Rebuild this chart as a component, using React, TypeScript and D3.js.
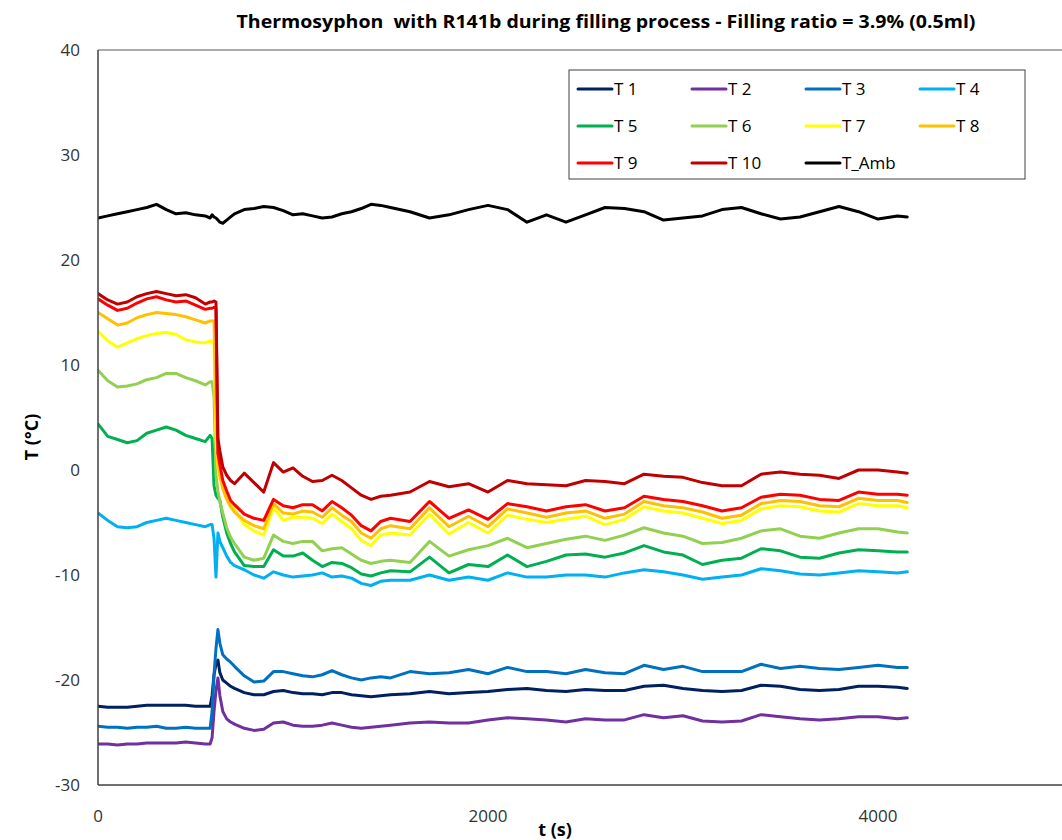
import React from "react";
import * as d3 from "d3";

// ---------- DATA ----------
const timeS = [
  0, 50, 100, 150, 200, 250, 300, 350, 400, 450, 500, 550,
  575, 585, 595, 605, 615, 625, 640, 660, 680, 700,
  750, 800, 850, 900, 950, 1000, 1050, 1100, 1150, 1200, 1250, 1300, 1350, 1400, 1450, 1500,
  1600, 1700, 1800, 1900, 2000, 2100, 2200, 2300, 2400, 2500, 2600, 2700, 2800, 2900, 3000,
  3100, 3200, 3300, 3400, 3500, 3600, 3700, 3800, 3900, 4000, 4100, 4150,
];

const T1 = [
  -22.5, -22.6, -22.6, -22.6, -22.5, -22.4, -22.4, -22.4, -22.4, -22.4, -22.5, -22.5,
  -22.5, -21.5, -19.5, -18.5, -18.1, -19.3, -20.0, -20.3, -20.6, -20.8,
  -21.2, -21.4, -21.4, -21.1, -21.0, -21.2, -21.3, -21.3, -21.4, -21.2, -21.2, -21.4, -21.5, -21.6, -21.5, -21.4,
  -21.3, -21.1, -21.3, -21.2, -21.1, -20.9, -20.8, -21.0, -21.1, -20.9, -21.0, -21.0, -20.6, -20.5, -20.8,
  -21.0, -21.1, -21.0, -20.5, -20.6, -20.9, -21.0, -20.9, -20.6, -20.6, -20.7, -20.8,
];
const T2 = [
  -26.1, -26.1, -26.2, -26.1, -26.1, -26.0, -26.0, -26.0, -26.0, -25.9, -26.0, -26.1,
  -26.1, -25.5, -23.0, -21.0, -19.8, -21.5, -23.0, -23.7, -24.0, -24.2,
  -24.6, -24.8, -24.7, -24.1, -24.0, -24.3, -24.4, -24.4, -24.3, -24.1, -24.3, -24.5, -24.6, -24.5, -24.4, -24.3,
  -24.1, -24.0, -24.1, -24.1, -23.8, -23.6, -23.7, -23.8, -24.0, -23.7, -23.8, -23.8, -23.3, -23.6, -23.4,
  -23.9, -24.0, -23.9, -23.3, -23.5, -23.7, -23.8, -23.7, -23.5, -23.5, -23.7, -23.6,
];
const T3 = [
  -24.4, -24.5, -24.5, -24.6, -24.5, -24.5, -24.4, -24.6, -24.6, -24.5, -24.6, -24.6,
  -24.6, -23.0, -19.5, -17.0, -15.2, -16.5, -17.6, -18.0, -18.3, -18.7,
  -19.6, -20.2, -20.1, -19.2, -19.2, -19.4, -19.6, -19.7, -19.5, -19.1, -19.5, -19.8, -20.0, -19.8, -19.7, -19.8,
  -19.2, -19.4, -19.3, -19.0, -19.4, -18.8, -19.2, -19.2, -19.4, -19.0, -19.3, -19.4, -18.6, -19.0, -18.7,
  -19.2, -19.2, -19.2, -18.5, -18.9, -18.7, -18.9, -19.0, -18.8, -18.6, -18.8, -18.8,
];
const T4 = [
  -4.1, -4.8, -5.4, -5.5, -5.4, -5.0, -4.8, -4.6, -4.8, -5.0, -5.2, -5.4,
  -5.2, -5.2, -6.5, -10.2, -6.0, -6.8, -7.4, -8.2, -8.8, -9.1,
  -9.5, -10.0, -10.3, -9.7, -10.0, -10.2, -10.1, -10.0, -9.8, -10.2, -10.1, -10.3, -10.8, -11.0, -10.6, -10.5,
  -10.5, -10.0, -10.5, -10.2, -10.5, -9.8, -10.2, -10.2, -10.0, -10.0, -10.2, -9.8, -9.5, -9.7, -10.0,
  -10.4, -10.2, -10.0, -9.4, -9.6, -9.9, -10.0, -9.8, -9.6, -9.7, -9.8, -9.7,
];
const T5 = [
  4.4, 3.2, 2.9, 2.6, 2.8, 3.5, 3.8, 4.1, 3.8, 3.3, 3.0, 2.7,
  3.3, 3.0, -1.5, -2.4, -2.7, -2.9, -4.5, -6.0, -7.0, -7.8,
  -9.1, -9.2, -9.2, -7.6, -8.2, -8.2, -7.9, -8.6, -9.2, -8.8, -8.9, -9.3, -9.9, -10.1, -9.8, -9.6,
  -9.7, -8.3, -9.8, -9.0, -9.2, -8.1, -9.2, -8.7, -8.1, -8.0, -8.3, -7.9, -7.2, -7.8, -8.1,
  -9.0, -8.6, -8.4, -7.5, -7.7, -8.3, -8.4, -7.9, -7.6, -7.7, -7.8, -7.8,
];
const T6 = [
  9.5, 8.5, 7.9, 8.0, 8.2, 8.6, 8.8, 9.2, 9.2, 8.8, 8.5, 8.1,
  8.4, 8.4, 7.0, -0.5, -2.0, -3.0, -4.1, -5.5, -6.4, -7.0,
  -8.3, -8.6, -8.4, -6.2, -6.8, -7.0, -6.8, -6.8, -7.7, -7.5, -7.4, -8.0, -8.6, -8.9, -8.7, -8.6,
  -8.8, -6.8, -8.2, -7.6, -7.2, -6.5, -7.4, -7.0, -6.6, -6.3, -6.7, -6.2, -5.5, -6.0, -6.3,
  -7.0, -6.9, -6.5, -5.8, -5.6, -6.3, -6.5, -6.0, -5.6, -5.6, -5.9, -6.0,
];
const T7 = [
  13.2, 12.3, 11.7, 12.1, 12.5, 12.8, 13.0, 13.1, 12.9, 12.4, 12.2, 12.1,
  12.3, 12.2, 12.0, 3.0, 0.3, -0.8, -1.5, -2.2, -3.0, -3.8,
  -5.2, -5.8, -6.2, -3.6, -4.8, -4.5, -4.5, -4.6, -5.1, -4.2, -4.9, -5.6, -6.7, -7.2, -6.2, -6.0,
  -6.2, -4.2, -6.1, -5.0, -6.0, -4.3, -4.7, -5.0, -4.7, -4.4, -5.2, -4.7, -3.5, -3.9, -4.1,
  -4.6, -5.1, -4.8, -3.7, -3.4, -3.5, -3.9, -4.0, -3.2, -3.4, -3.4, -3.6,
];
const T8 = [
  15.0, 14.4, 13.8, 14.0, 14.5, 14.8, 15.0, 14.9, 14.8, 14.6, 14.3, 14.0,
  14.2, 14.2, 14.2, 5.0, 0.8, -0.5, -1.8, -2.8, -3.5, -4.0,
  -4.8, -5.3, -5.6, -3.2, -4.1, -4.2, -3.9, -4.0, -4.5, -3.6, -4.3, -4.9, -6.0, -6.5, -5.6, -5.3,
  -5.6, -3.6, -5.4, -4.4, -5.4, -3.7, -4.1, -4.5, -4.1, -3.9, -4.6, -4.2, -3.0, -3.4, -3.6,
  -4.0, -4.6, -4.3, -3.2, -2.9, -3.0, -3.4, -3.5, -2.7, -2.9, -2.9, -3.1,
];
const T9 = [
  16.3, 15.7, 15.2, 15.4, 15.9, 16.3, 16.5, 16.2, 16.0, 16.1, 15.7, 15.3,
  15.4, 15.4, 15.5, 15.4, 1.6, 0.5, -1.0, -2.0, -2.9, -3.3,
  -4.2, -4.6, -4.8, -2.8, -3.4, -3.6, -3.3, -3.3, -3.9, -3.0, -3.6, -4.3, -5.3, -5.8, -4.9, -4.6,
  -4.9, -3.0, -4.6, -3.8, -4.7, -3.2, -3.5, -3.9, -3.5, -3.3, -3.9, -3.6, -2.5, -2.8, -3.0,
  -3.4, -3.9, -3.6, -2.6, -2.3, -2.4, -2.8, -2.9, -2.1, -2.3, -2.3, -2.4,
];
const T10 = [
  16.8, 16.2, 15.8, 16.0, 16.5, 16.8, 17.0, 16.8, 16.6, 16.7, 16.4, 15.8,
  16.0, 16.0, 16.1, 16.0, 3.0, 1.8, 0.3, -0.5, -1.0, -1.3,
  -0.3, -1.2, -2.1, 0.7, -0.2, 0.2, -0.6, -1.1, -1.0, -0.5, -1.0, -1.7, -2.4, -2.8, -2.5, -2.4,
  -2.1, -1.1, -1.6, -1.3, -2.1, -1.0, -1.3, -1.4, -1.5, -1.0, -1.1, -1.3, -0.4, -0.6, -0.7,
  -1.2, -1.5, -1.5, -0.4, -0.2, -0.4, -0.5, -0.8, 0.0, 0.0, -0.2, -0.3,
];
const TAmb = [
  24.0, 24.2, 24.4, 24.6, 24.8, 25.0, 25.3, 24.8, 24.4, 24.5, 24.3, 24.2,
  24.0, 24.3, 24.1, 24.0, 23.8, 23.6, 23.5, 23.8, 24.1, 24.4,
  24.8, 24.9, 25.1, 25.0, 24.7, 24.3, 24.4, 24.2, 24.0, 24.1, 24.4, 24.6, 24.9, 25.3, 25.2, 25.0,
  24.6, 24.0, 24.3, 24.8, 25.2, 24.8, 23.6, 24.3, 23.6, 24.3, 25.0, 24.9, 24.6, 23.8, 24.0,
  24.2, 24.8, 25.0, 24.4, 23.9, 24.1, 24.6, 25.1, 24.6, 23.9, 24.2, 24.1,
];

const seriesNames = ["T 1", "T 2", "T 3", "T 4", "T 5", "T 6", "T 7", "T 8", "T 9", "T 10", "T_Amb"];
const seriesValues = [T1, T2, T3, T4, T5, T6, T7, T8, T9, T10, TAmb];
const seriesColors = [
  "#002060", "#7030A0", "#0070C0", "#00B0F0", "#00B050", "#92D050",
  "#FFFF00", "#FFC000", "#FF0000", "#C00000", "#000000",
];

const yTicks = [-30, -20, -10, 0, 10, 20, 30, 40];
const xTicks = [0, 2000, 4000];

const titleText = "Thermosyphon  with R141b during filling process - Filling ratio = 3.9% (0.5ml)";
const xTitle = "t (s)";
const yTitle = "T (°C)";

// ---------- CHART ----------
export default function App() {
  const W = 1062;
  const H = 840;
  const left = 98;
  const top = 50;
  const bottom = 785;
  const x = d3.scaleLinear().domain([0, 5000]).range([left, 1073]);
  const y = d3.scaleLinear().domain([-30, 40]).range([bottom, top]);
  const font = "'Open Sans', 'Noto Sans', sans-serif";

  const line = d3
    .line<number>()
    .x((_, i) => x(timeS[i]))
    .y((d) => y(d));

  const legendX = 569;
  const legendY = 70;
  const colW = 114;
  const rowH = 37;

  return (
    <div style={{ position: "absolute", left: 0, top: 0 }}>
      <svg width={W} height={H} style={{ display: "block", background: "#fff" }}>
        <defs>
          <clipPath id="plotclip">
            <rect x={left} y={top} width={W - left} height={bottom - top} />
          </clipPath>
        </defs>
        <text
          x={606}
          y={28}
          textAnchor="middle"
          fontFamily={font}
          fontWeight="bold"
          fontSize={17}
          textLength={739}
          lengthAdjust="spacingAndGlyphs"
          fill="#000"
          style={{ whiteSpace: "pre" }}
        >
          {titleText}
        </text>

        {/* plot frame */}
        <line x1={left} x2={W} y1={top} y2={top} stroke="#595959" strokeWidth={1} />

        {/* series */}
        <g clipPath="url(#plotclip)">
          {seriesValues.map((vals, k) => (
            <path
              key={seriesNames[k]}
              d={line(vals) || ""}
              fill="none"
              stroke={seriesColors[k]}
              strokeWidth={3}
              strokeLinejoin="round"
              strokeLinecap="round"
            />
          ))}
        </g>

        {/* axes */}
        <line x1={left} x2={left} y1={top} y2={bottom} stroke="#404040" strokeWidth={1.5} />
        <line x1={left} x2={W} y1={bottom} y2={bottom} stroke="#404040" strokeWidth={1.5} />

        {yTicks.map((t) => (
          <text
            key={"y" + t}
            x={80}
            y={y(t)}
            dy="0.35em"
            textAnchor="end"
            fontFamily={font}
            fontSize={17}
            fill="#333"
          >
            {t}
          </text>
        ))}
        {xTicks.map((t) => (
          <text
            key={"x" + t}
            x={x(t)}
            y={822}
            textAnchor="middle"
            fontFamily={font}
            fontSize={17}
            fill="#333"
          >
            {t}
          </text>
        ))}

        <text x={555} y={836} textAnchor="middle" fontFamily={font} fontWeight="bold" fontSize={18} fill="#000">
          {xTitle}
        </text>
        <text
          transform="translate(38,437) rotate(-90)"
          textAnchor="middle"
          fontFamily={font}
          fontWeight="bold"
          fontSize={18}
          fill="#000"
        >
          {yTitle}
        </text>

        {/* legend */}
        <rect x={legendX} y={legendY} width={456} height={109} fill="#fff" stroke="#404040" strokeWidth={1} />
        {seriesNames.map((name, k) => {
          const col = k % 4;
          const row = Math.floor(k / 4);
          const lx = legendX + 9 + col * colW;
          const ly = legendY + 19 + row * rowH;
          return (
            <g key={"lg" + name}>
              <line x1={lx} x2={lx + 34} y1={ly} y2={ly} stroke={seriesColors[k]} strokeWidth={3} strokeLinecap="round" />
              <text x={lx + 36} y={ly} dy="0.35em" fontFamily={font} fontSize={17} fill="#000">
                {name}
              </text>
            </g>
          );
        })}
      </svg>
    </div>
  );
}
